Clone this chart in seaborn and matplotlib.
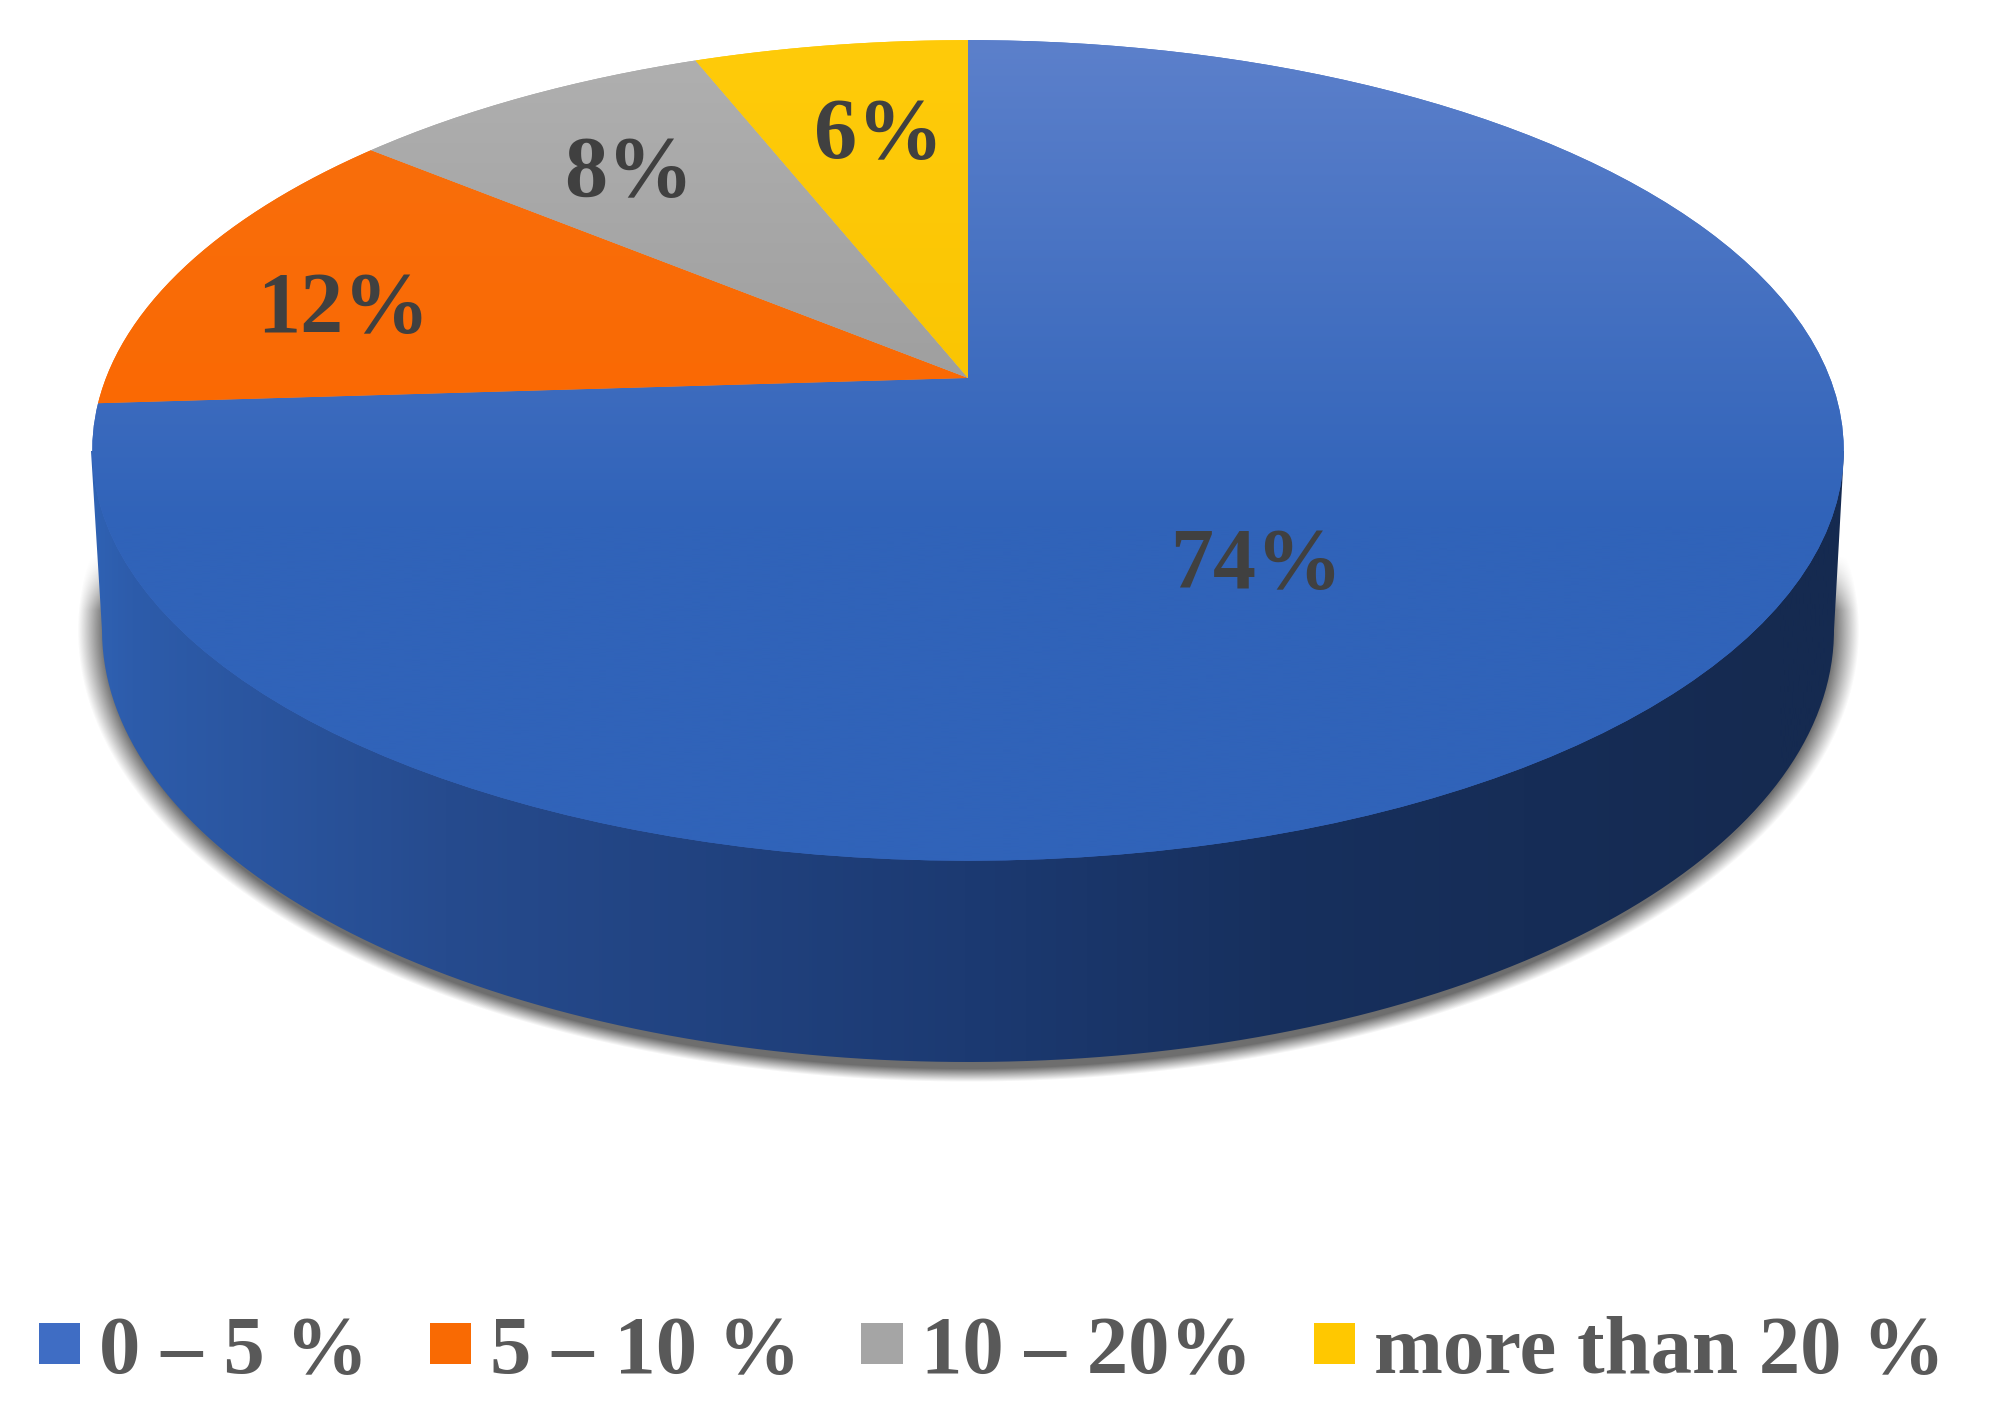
# Pie 3D en perspectiva con leyenda inferior
import numpy as np
import matplotlib
matplotlib.use("Agg")
import matplotlib.pyplot as plt
import seaborn as sns
from matplotlib.patches import PathPatch
from matplotlib.path import Path
from matplotlib.transforms import Affine2D, Transform

# DATOS
categorias = ["0 – 5 %", "5 – 10 %", "10 – 20%", "more than 20 %"]
valores = [74, 12, 8, 6]

# ESTILO
colores = ["#3F6DC4", "#F96A03", "#A5A5A5", "#FFC800"]
grad_arriba = ["#5C80CB", "#F8700E", "#B0B0B0", "#FFCB0A"]
grad_abajo = ["#3063B9", "#FB6700", "#989898", "#F8C300"]
pos_etiquetas = [(1256, 568), (343, 312), (629, 175), (879, 138)]

W, H = 1992, 1411
CX, APEX_Y = 968, 378
PERSP_B, PERSP_C, PERSP_D = 0.1765, 397.5, 862.0


class Perspectiva(Transform):
    input_dims = 2
    output_dims = 2
    has_inverse = False

    def transform_non_affine(self, values):
        xy = np.asarray(values, dtype=float)
        den = 1 + PERSP_B * xy[:, 1]
        return np.column_stack((CX + PERSP_D * xy[:, 0] / den, APEX_Y - PERSP_C * xy[:, 1] / den))

    def transform_path_non_affine(self, path):
        # aplanar curvas antes de proyectar
        poly = path.transformed(Affine2D().scale(1000)).to_polygons(closed_only=False)[0] / 1000
        return Path(self.transform_non_affine(poly))


def rgb(hex_color):
    return np.array(matplotlib.colors.to_rgb(hex_color))


def gradiente_vertical(c1, c2):
    y0, y1 = 40, 860
    filas = np.clip((np.linspace(0, H, 256) - y0) / (y1 - y0), 0, 1)[:, None, None]
    filas = np.minimum(filas * 1.7, 1)
    return rgb(c1)[None, None, :] * (1 - filas) + rgb(c2)[None, None, :] * filas


sns.set_style("white")
plt.rcParams["font.family"] = ["Liberation Serif", "DejaVu Serif"]

fig = plt.figure(figsize=(W / 100, H / 100), dpi=100)
ax = fig.add_axes([0, 0, 1, 1])

# 1. PIE BASE
wedges, textos, autotextos = ax.pie(
    valores,
    colors=sns.color_palette(colores),
    startangle=90,
    counterclock=False,
    autopct="%d%%",
    wedgeprops={"edgecolor": "none", "linewidth": 0},
    textprops={"fontsize": 62, "fontweight": "bold", "color": "#404040"},
)
ax.set_aspect("auto")
ax.set_xlim(0, W)
ax.set_ylim(H, 0)
ax.axis("off")

proy = Perspectiva() + ax.transData
for w in wedges:
    w.set_transform(proy)

# 2. SOMBRA
X, Y = np.meshgrid(np.arange(W), np.arange(H))
r = np.sqrt(((X - 968) / 882) ** 2 + ((Y - 630) / 447) ** 2)
alfa = np.clip((1.010 - r) / 0.030, 0, 1) * np.clip((Y - 555) / 55, 0, 1) * 0.85
sombra = np.zeros((H, W, 4))
sombra[..., :3] = 0.33
sombra[..., 3] = alfa
ax.imshow(sombra, extent=[0, W, H, 0], aspect="auto", zorder=0.2, interpolation="bilinear")

# 3. PARED LATERAL
t = np.linspace(0, np.pi, 300)
borde_x = 968 - 866 * np.cos(t)
borde_y = 630 + 432 * np.sin(t)
pared = Path(np.vstack(([[91, 451]], np.column_stack((borde_x, borde_y)), [[1844, 451]], [[91, 451]])))
pared_patch = PathPatch(pared, transform=ax.transData, facecolor="none", edgecolor="none")
ax.add_patch(pared_patch)
stops_x = [90, 130, 445, 965, 1270, 1780, 1850]
stops_c = ["#2F62B4", "#2D5CAB", "#264B8E", "#1C3A72", "#17305E", "#152A50", "#152A50"]
cols = np.linspace(0, W, 512)
franja = np.stack([np.interp(cols, stops_x, [rgb(c)[i] for c in stops_c]) for i in range(3)], axis=1)[None, :, :]
img = ax.imshow(franja, extent=[0, W, H, 0], aspect="auto", zorder=0.5, interpolation="bilinear")
img.set_clip_path(pared_patch)

# 4. CARA SUPERIOR
for w, c1, c2 in zip(wedges, grad_arriba, grad_abajo):
    w.set_zorder(0.8)
    img = ax.imshow(gradiente_vertical(c1, c2), extent=[0, W, H, 0], aspect="auto", zorder=1, interpolation="bilinear")
    img.set_clip_path(w)

ax.set_xlim(0, W)
ax.set_ylim(H, 0)

# 5. ETIQUETAS
for txt, pos in zip(autotextos, pos_etiquetas):
    txt.set_position(pos)
    txt.set_zorder(3)

# 6. LEYENDA
ax.legend(
    wedges,
    categorias,
    ncol=4,
    frameon=False,
    loc="lower left",
    bbox_to_anchor=(39 / W, 20 / H),
    bbox_transform=fig.transFigure,
    borderaxespad=0,
    borderpad=0,
    prop={"family": "Liberation Serif", "weight": "bold", "size": 59.6},
    labelcolor="#595959",
    handlelength=0.5,
    handleheight=0.392,
    handletextpad=0.225,
    columnspacing=0.74,
)

plt.savefig("out.png", dpi=100)
